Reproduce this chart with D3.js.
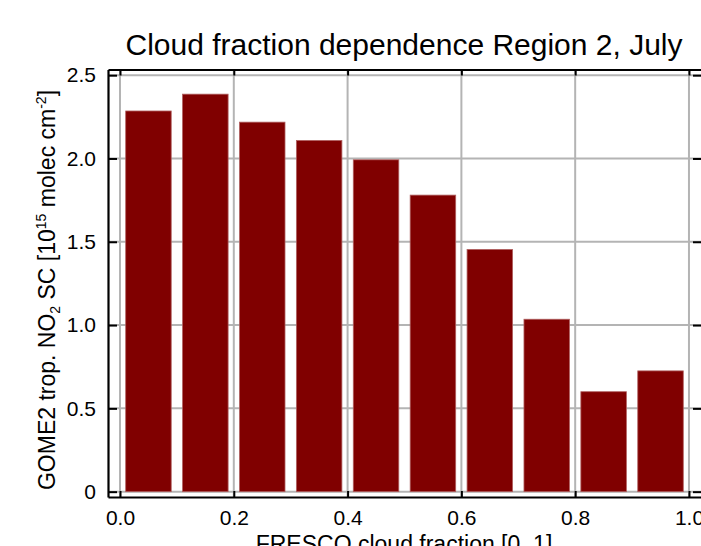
<!DOCTYPE html>
<html>
<head>
<meta charset="utf-8">
<script src="https://cdn.jsdelivr.net/npm/d3@7"></script>
<style>
  body { margin: 0; background: #fff; }
  svg { display: block; font-family: "Liberation Sans", Arial, Helvetica, sans-serif; }
</style>
</head>
<body>
<svg width="701" height="546"></svg>
<script>
// cloud fraction bin centres and mean tropospheric NO2 slant columns
var binCentres = [0.05, 0.15, 0.25, 0.35, 0.45, 0.55, 0.65, 0.75, 0.85, 0.95];
var no2Values = [2.285, 2.386, 2.218, 2.108, 1.992, 1.780, 1.454, 1.035, 0.600, 0.725];
var binWidth = 0.08;
var xTicks = [0.0, 0.2, 0.4, 0.6, 0.8, 1.0];
var yTicks = [0, 0.5, 1.0, 1.5, 2.0, 2.5];
var yTickLabels = ["0", "0.5", "1.0", "1.5", "2.0", "2.5"];

var svg = d3.select('svg');
var plotLeft = 108, plotRight = 702, plotTop = 69.5, plotBottom = 497;

var x = d3.scaleLinear().domain([-0.0211, 1.0229]).range([plotLeft, plotRight]);
var y = d3.scaleLinear().domain([-0.032, 2.534]).range([plotBottom, plotTop]);

// grid
svg.append('g').selectAll('line').data(xTicks).enter().append('line')
    .attr('x1', function(d) { return x(d); }).attr('x2', function(d) { return x(d); })
    .attr('y1', plotTop).attr('y2', plotBottom)
    .attr('stroke', '#b4b4b4').attr('stroke-width', 2);
svg.append('g').selectAll('line').data(yTicks).enter().append('line')
    .attr('y1', function(d) { return y(d); }).attr('y2', function(d) { return y(d); })
    .attr('x1', plotLeft).attr('x2', plotRight)
    .attr('stroke', '#b4b4b4').attr('stroke-width', 2);

// bars
svg.append('g').selectAll('rect').data(no2Values).enter().append('rect')
    .attr('x', function(d, i) { return x(binCentres[i] - binWidth / 2); })
    .attr('width', function(d, i) { return x(binCentres[i] + binWidth / 2) - x(binCentres[i] - binWidth / 2); })
    .attr('y', function(d) { return y(d); })
    .attr('height', function(d) { return y(0) - y(d); })
    .attr('fill', '#800000')
    .attr('stroke', '#b06060').attr('stroke-width', 0.8);

// axes, ticks inward on all four sides
var fmtX = d3.format('.1f');
var gBottom = svg.append('g').attr('transform', 'translate(0,' + plotBottom + ')')
    .call(d3.axisBottom(x).tickValues(xTicks).tickSizeInner(-6).tickSizeOuter(0).tickPadding(12).tickFormat(fmtX));
var gTop = svg.append('g').attr('transform', 'translate(0,' + plotTop + ')')
    .call(d3.axisTop(x).tickValues(xTicks).tickSizeInner(-6).tickSizeOuter(0).tickFormat(''));
var gLeft = svg.append('g').attr('transform', 'translate(' + plotLeft + ',0)')
    .call(d3.axisLeft(y).tickValues(yTicks).tickSizeInner(-9).tickSizeOuter(0).tickPadding(12)
        .tickFormat(function(d, i) { return yTickLabels[i]; }));
var gRight = svg.append('g').attr('transform', 'translate(' + plotRight + ',0)')
    .call(d3.axisRight(y).tickValues(yTicks).tickSizeInner(-9).tickSizeOuter(0).tickFormat(''));

[gBottom, gTop, gLeft, gRight].forEach(function(g) {
    g.select('.domain').attr('stroke', '#000').attr('stroke-width', 2.2);
    g.selectAll('.tick line').attr('stroke', '#000').attr('stroke-width', 2);
    g.selectAll('.tick text').attr('fill', '#000').attr('font-size', 21)
        .attr('font-family', '"Liberation Sans", Arial, Helvetica, sans-serif');
});
gBottom.selectAll('.tick text').attr('dy', '0.75em');

// title
svg.append('text').attr('x', 404).attr('y', 55)
    .attr('text-anchor', 'middle').attr('font-size', 30)
    .text('Cloud fraction dependence Region 2, July');

// x label
svg.append('text').attr('x', 404).attr('y', 552)
    .attr('text-anchor', 'middle').attr('font-size', 23)
    .text('FRESCO cloud fraction [0..1]');

// y label with sub/superscripts
var yl = svg.append('text').attr('transform', 'translate(55,290) rotate(-90)')
    .attr('text-anchor', 'middle').attr('font-size', 23);
yl.append('tspan').text('GOME2 trop. NO');
yl.append('tspan').attr('font-size', 14).attr('dy', 5).text('2');
yl.append('tspan').attr('dy', -5).text(' SC [10');
yl.append('tspan').attr('font-size', 14).attr('dy', -9).text('15');
yl.append('tspan').attr('dy', 9).text(' molec cm');
yl.append('tspan').attr('font-size', 14).attr('dy', -9).text('-2');
yl.append('tspan').attr('dy', 9).text(']');
</script>
</body>
</html>
